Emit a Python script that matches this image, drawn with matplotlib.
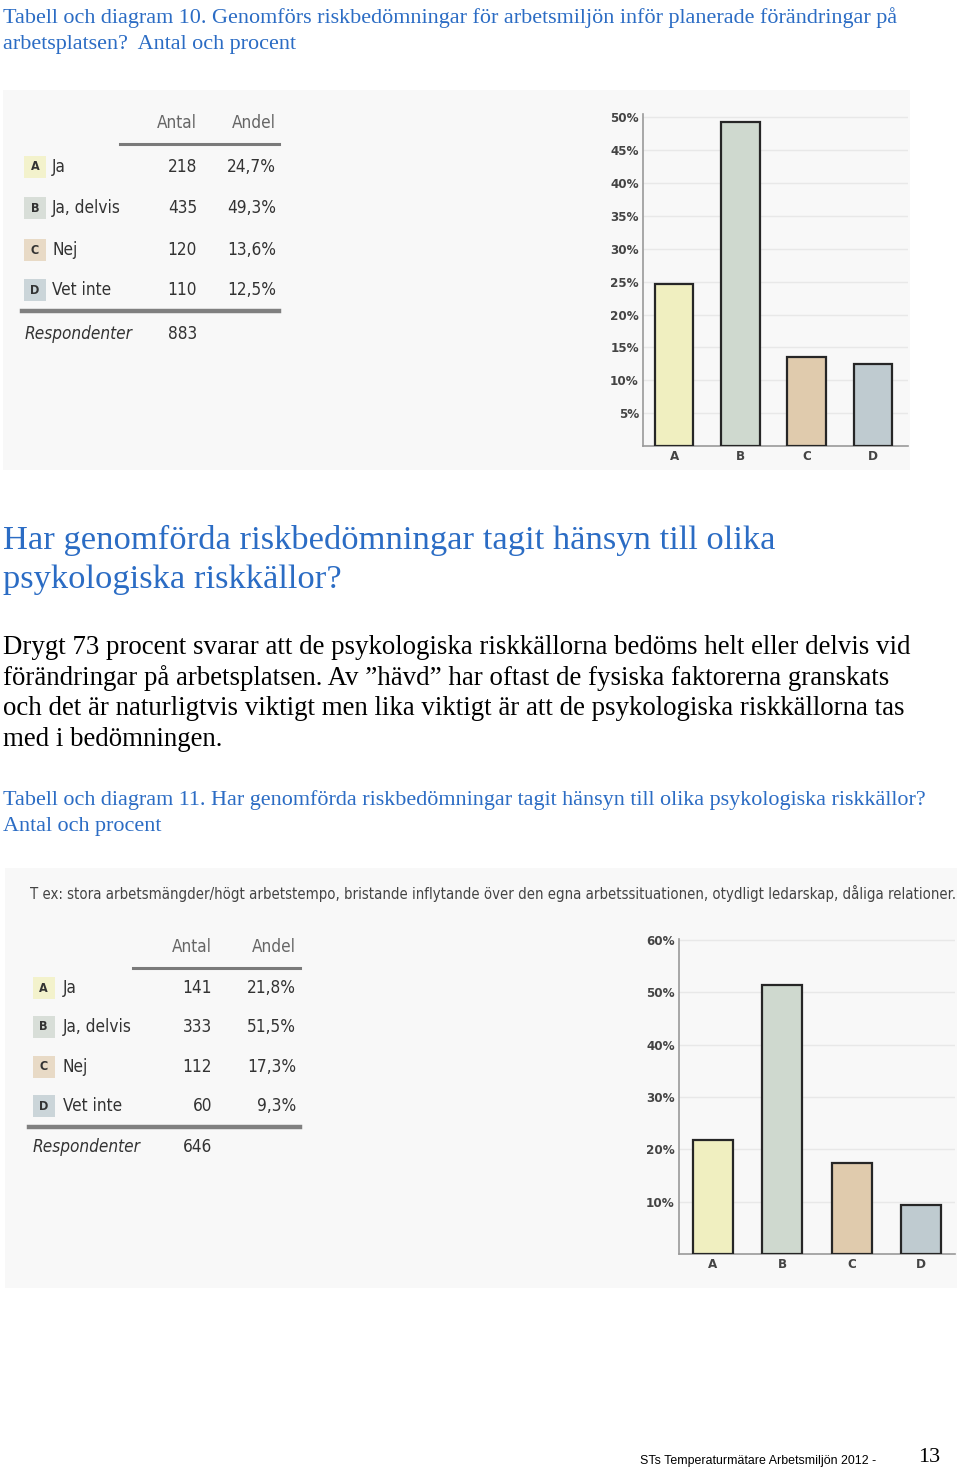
import os
import matplotlib
matplotlib.use("Agg")
import matplotlib.pyplot as plt
from matplotlib.patches import Rectangle
from matplotlib import font_manager
from matplotlib.font_manager import FontProperties

# page size in pixels (dpi 100)
W, H = 960, 1470

# Data
categories = ["A", "B", "C", "D"]
answers = ["Ja", "Ja, delvis", "Nej", "Vet inte"]
counts_10 = [218, 435, 120, 110]
shares_10 = [24.7, 49.3, 13.6, 12.5]
respondents_10 = 883
yticks_10 = [5, 10, 15, 20, 25, 30, 35, 40, 45, 50]

counts_11 = [141, 333, 112, 60]
shares_11 = [21.8, 51.5, 17.3, 9.3]
respondents_11 = 646
yticks_11 = [10, 20, 30, 40, 50, 60]

bar_colors = ["#f0efc0", "#cfd9cf", "#e0cbad", "#bfcbd0"]
badge_colors = ["#f3f2cc", "#d8ded8", "#e8dac6", "#cbd5d9"]

BLUE = "#2b6cc4"
SERIF = "Liberation Serif"

# a narrow sans if one is installed, plain Liberation Sans otherwise
files = {os.path.basename(f.fname): f.fname for f in font_manager.fontManager.ttflist}
narrow_files = {
    "reg": ["LiberationSansNarrow-Regular.ttf", "DejaVuSansCondensed.ttf"],
    "it": ["LiberationSansNarrow-Italic.ttf", "DejaVuSansCondensed-Oblique.ttf"],
    "bold": ["LiberationSansNarrow-Bold.ttf", "DejaVuSansCondensed-Bold.ttf"],
}
HAVE_NARROW = any(n in files for n in narrow_files["reg"])


def fp(kind, size):
    for n in narrow_files[kind]:
        if n in files:
            return FontProperties(fname=files[n], size=size)
    style = "italic" if kind == "it" else "normal"
    weight = "bold" if kind == "bold" else "normal"
    scale = 1.0 if HAVE_NARROW else 0.9
    return FontProperties(family="Liberation Sans", style=style, weight=weight,
                          size=size * scale)


fig = plt.figure(figsize=(W / 100, H / 100), dpi=100)
fig.patch.set_facecolor("white")


def page_text(x, y, s, **kw):
    return fig.text(x / W, 1 - y / H, s, **kw)


def px_axes(x0, y0, x1, y1):
    return fig.add_axes([x0 / W, 1 - y1 / H, (x1 - x0) / W, (y1 - y0) / H])


def pct(v):
    return f"{v:.1f}".replace(".", ",") + "%"


def panel(x0, y0, x1, y1):
    ax = px_axes(x0, y0, x1, y1)
    ax.set_xlim(x0, x1)
    ax.set_ylim(y1, y0)
    ax.set_facecolor("#f8f8f8")
    ax.set_xticks([])
    ax.set_yticks([])
    for s in ax.spines.values():
        s.set_visible(False)
    return ax


def draw_table(ax, counts, shares, resp, x_badge, x_label, x_antal, x_andel,
               y_head, rows_y, head_line, foot_line, y_resp, x_resp):
    fs = 12.3
    ax.text(x_antal, y_head, "Antal", ha="right", va="center",
            fontproperties=fp("reg", fs), color="#666666")
    ax.text(x_andel, y_head, "Andel", ha="right", va="center",
            fontproperties=fp("reg", fs), color="#666666")
    ax.plot(head_line[:2], [head_line[2]] * 2, color="#7a7a7a", lw=2.2)
    for i, y in enumerate(rows_y):
        ax.add_patch(Rectangle((x_badge - 11, y - 11), 22, 22,
                               facecolor=badge_colors[i], edgecolor="none"))
        ax.text(x_badge, y, categories[i], ha="center", va="center",
                fontproperties=fp("bold", 9), color="#333333")
        ax.text(x_label, y, answers[i], ha="left", va="center",
                fontproperties=fp("reg", fs), color="#333333")
        ax.text(x_antal, y, str(counts[i]), ha="right", va="center",
                fontproperties=fp("reg", fs), color="#333333")
        ax.text(x_andel, y, pct(shares[i]), ha="right", va="center",
                fontproperties=fp("reg", fs), color="#333333")
    ax.plot(foot_line[:2], [foot_line[2]] * 2, color="#808080", lw=3.2)
    ax.text(x_resp, y_resp, "Respondenter", ha="left", va="center",
            fontproperties=fp("it", fs), color="#333333")
    ax.text(x_antal, y_resp, str(resp), ha="right", va="center",
            fontproperties=fp("reg", fs), color="#333333")


def draw_bars(ax, shares, yticks, ymax, xlim, width):
    ax.bar(range(len(categories)), shares, width=width, color=bar_colors,
           edgecolor="#262626", linewidth=1.6, zorder=3)
    ax.set_xlim(*xlim)
    ax.set_ylim(0, ymax)
    ax.set_xticks(range(len(categories)))
    ax.set_xticklabels(categories)
    ax.set_yticks(yticks)
    ax.set_yticklabels([f"{t}%" for t in yticks])
    ax.set_facecolor("none")
    ax.grid(axis="y", color="#e8e8e8", lw=1, zorder=0)
    for s in ["top", "right"]:
        ax.spines[s].set_visible(False)
    for s in ["left", "bottom"]:
        ax.spines[s].set_color("#9a9a9a")
        ax.spines[s].set_linewidth(1.2)
    ax.tick_params(length=0, labelcolor="#444444", pad=3)
    for lab in ax.get_xticklabels() + ax.get_yticklabels():
        lab.set_fontproperties(fp("bold", 9.5))


# Caption 10
page_text(3, 18, "Tabell och diagram 10. Genomförs riskbedömningar för arbetsmiljön inför planerade förändringar på",
          fontsize=15.9, color=BLUE, family=SERIF, va="center")
page_text(3, 44, "arbetsplatsen?  Antal och procent", fontsize=15.9, color=BLUE,
          family=SERIF, va="center")

# Panel 1
p1 = panel(3, 90, 910, 470)
draw_table(p1, counts_10, shares_10, respondents_10, x_badge=35, x_label=52,
           x_antal=197, x_andel=276, y_head=123, rows_y=[167, 208, 250, 290],
           head_line=(120, 279, 144), foot_line=(22, 279, 311), y_resp=334, x_resp=25)
c1 = px_axes(643, 114, 908, 446)
draw_bars(c1, shares_10, yticks_10, 50.5, (-0.47, 3.53), 0.58)

# Heading and body
page_text(3, 540, "Har genomförda riskbedömningar tagit hänsyn till olika",
          fontsize=24.8, color=BLUE, family=SERIF, va="center")
page_text(3, 580, "psykologiska riskkällor?", fontsize=24.8, color=BLUE,
          family=SERIF, va="center")
body = [
    "Drygt 73 procent svarar att de psykologiska riskkällorna bedöms helt eller delvis vid",
    "förändringar på arbetsplatsen. Av \u201dhävd\u201d har oftast de fysiska faktorerna granskats",
    "och det är naturligtvis viktigt men lika viktigt är att de psykologiska riskkällorna tas",
    "med i bedömningen.",
]
for i, line in enumerate(body):
    page_text(3, 647 + i * 31, line, fontsize=19.4, color="black",
              family=SERIF, va="center")

# Caption 11
page_text(3, 800, "Tabell och diagram 11. Har genomförda riskbedömningar tagit hänsyn till olika psykologiska riskkällor?",
          fontsize=15.9, color=BLUE, family=SERIF, va="center")
page_text(3, 826, "Antal och procent", fontsize=15.9, color=BLUE, family=SERIF,
          va="center")

# Panel 2
p2 = panel(5, 868, 957, 1288)
note = p2.text(30, 893, "T ex: stora arbetsmängder/högt arbetstempo, bristande inflytande över den egna "
               "arbetssituationen, otydligt ledarskap, dåliga relationer.",
               ha="left", va="center", fontproperties=fp("reg", 13.5), color="#444444")
# shrink the note until it fits the panel (ends at x ~ 952 in the page)
renderer = fig.canvas.get_renderer()
w = note.get_window_extent(renderer).width
if w > 918:
    note.set_fontsize(note.get_fontsize() * 918 / w)
draw_table(p2, counts_11, shares_11, respondents_11, x_badge=43.5, x_label=63,
           x_antal=212, x_andel=296, y_head=947, rows_y=[988, 1027, 1067, 1106],
           head_line=(133, 300, 968), foot_line=(29, 300, 1127), y_resp=1147, x_resp=33)
c2 = px_axes(679, 939, 955, 1254)
draw_bars(c2, shares_11, yticks_11, 60.2, (-0.49, 3.49), 0.58)

# Footer
page_text(640, 1461, "STs Temperaturmätare Arbetsmiljön 2012 -", fontsize=8.9,
          color="black", family="Liberation Sans", va="center")
page_text(918, 1458, "13", fontsize=16, color="black", family=SERIF, va="center")

fig.savefig("out.png", dpi=100, facecolor="white")
